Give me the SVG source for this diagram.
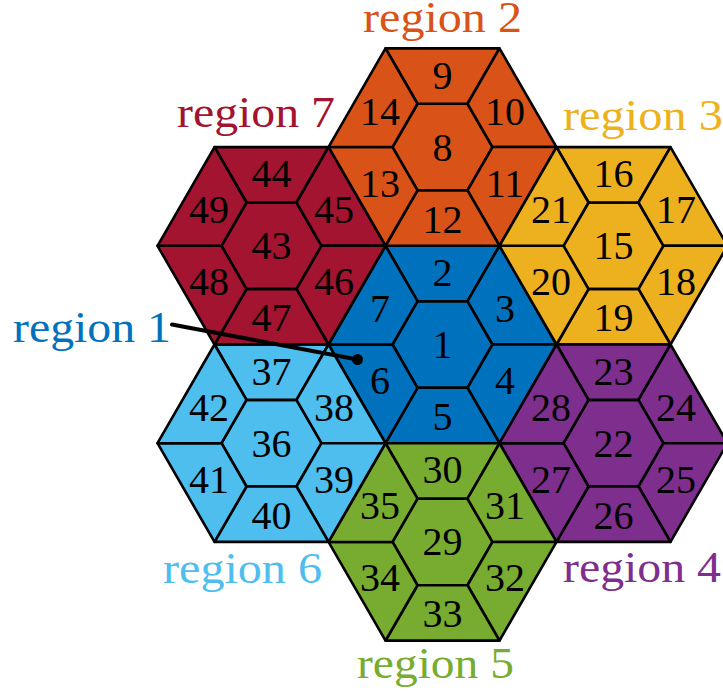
<svg xmlns="http://www.w3.org/2000/svg" width="723" height="694" viewBox="0 0 723 694">
<style>
  .cell polygon { stroke: #000; stroke-width: 2.6; stroke-linejoin: round; }
  .num { font-family: "Liberation Serif", serif; font-size: 40px; fill: #000; text-anchor: middle; }
  .lbl { font-family: "Liberation Serif", serif; font-size: 44px; }
  .r1 polygon { fill: #0072BD; } .r2 polygon { fill: #D95319; } .r3 polygon { fill: #EDB120; }
  .r4 polygon { fill: #7E2F8E; } .r5 polygon { fill: #77AC30; } .r6 polygon { fill: #4DBEEE; }
  .r7 polygon { fill: #A2142F; }
</style>
<defs>
  <polygon id="pc" points="50,0 25,-43.3 -25,-43.3 -50,0 -25,43.3 25,43.3"/>
  <polygon id="pt" points="57,-98.7 -57,-98.7 -25,-43.3 25,-43.3"/>
  <polygon id="pur" points="114,0 57,-98.7 25,-43.3 50,0"/>
  <polygon id="plr" points="57,98.7 114,0 50,0 25,43.3"/>
  <polygon id="pb" points="-57,98.7 57,98.7 25,43.3 -25,43.3"/>
  <polygon id="pll" points="-114,0 -57,98.7 -25,43.3 -50,0"/>
  <polygon id="pul" points="-57,-98.7 -114,0 -50,0 -25,-43.3"/>
</defs>
<rect width="723" height="694" fill="#fff"/>

<g id="region1" class="cell r1" transform="translate(442.5,344.5)">
  <g id="c1"><polygon points="50,0 25,-43.3 -25,-43.3 -50,0 -25,43.3 25,43.3"/><text class="num" x="0" y="13.5">1</text></g>
  <g id="c2"><polygon points="57,-98.7 -57,-98.7 -25,-43.3 25,-43.3"/><text class="num" x="0" y="-58.5">2</text></g>
  <g id="c3"><polygon points="114,0 57,-98.7 25,-43.3 50,0"/><text class="num" x="62.4" y="-22.5">3</text></g>
  <g id="c4"><polygon points="57,98.7 114,0 50,0 25,43.3"/><text class="num" x="62.4" y="49.5">4</text></g>
  <g id="c5"><polygon points="-57,98.7 57,98.7 25,43.3 -25,43.3"/><text class="num" x="0" y="85.5">5</text></g>
  <g id="c6"><polygon points="-114,0 -57,98.7 -25,43.3 -50,0"/><text class="num" x="-62.4" y="49.5">6</text></g>
  <g id="c7"><polygon points="-57,-98.7 -114,0 -50,0 -25,-43.3"/><text class="num" x="-62.4" y="-22.5">7</text></g>
</g>
<g id="region2" class="cell r2" transform="translate(442.5,147.05)">
  <g id="c8"><polygon points="50,0 25,-43.3 -25,-43.3 -50,0 -25,43.3 25,43.3"/><text class="num" x="0" y="13.5">8</text></g>
  <g id="c9"><polygon points="57,-98.7 -57,-98.7 -25,-43.3 25,-43.3"/><text class="num" x="0" y="-58.5">9</text></g>
  <g id="c10"><polygon points="114,0 57,-98.7 25,-43.3 50,0"/><text class="num" x="62.4" y="-22.5">10</text></g>
  <g id="c11"><polygon points="57,98.7 114,0 50,0 25,43.3"/><text class="num" x="62.4" y="49.5">11</text></g>
  <g id="c12"><polygon points="-57,98.7 57,98.7 25,43.3 -25,43.3"/><text class="num" x="0" y="85.5">12</text></g>
  <g id="c13"><polygon points="-114,0 -57,98.7 -25,43.3 -50,0"/><text class="num" x="-62.4" y="49.5">13</text></g>
  <g id="c14"><polygon points="-57,-98.7 -114,0 -50,0 -25,-43.3"/><text class="num" x="-62.4" y="-22.5">14</text></g>
</g>
<g id="region3" class="cell r3" transform="translate(613.5,245.8)">
  <g id="c15"><polygon points="50,0 25,-43.3 -25,-43.3 -50,0 -25,43.3 25,43.3"/><text class="num" x="0" y="13.5">15</text></g>
  <g id="c16"><polygon points="57,-98.7 -57,-98.7 -25,-43.3 25,-43.3"/><text class="num" x="0" y="-58.5">16</text></g>
  <g id="c17"><polygon points="114,0 57,-98.7 25,-43.3 50,0"/><text class="num" x="62.4" y="-22.5">17</text></g>
  <g id="c18"><polygon points="57,98.7 114,0 50,0 25,43.3"/><text class="num" x="62.4" y="49.5">18</text></g>
  <g id="c19"><polygon points="-57,98.7 57,98.7 25,43.3 -25,43.3"/><text class="num" x="0" y="85.5">19</text></g>
  <g id="c20"><polygon points="-114,0 -57,98.7 -25,43.3 -50,0"/><text class="num" x="-62.4" y="49.5">20</text></g>
  <g id="c21"><polygon points="-57,-98.7 -114,0 -50,0 -25,-43.3"/><text class="num" x="-62.4" y="-22.5">21</text></g>
</g>
<g id="region4" class="cell r4" transform="translate(613.5,443.2)">
  <g id="c22"><polygon points="50,0 25,-43.3 -25,-43.3 -50,0 -25,43.3 25,43.3"/><text class="num" x="0" y="13.5">22</text></g>
  <g id="c23"><polygon points="57,-98.7 -57,-98.7 -25,-43.3 25,-43.3"/><text class="num" x="0" y="-58.5">23</text></g>
  <g id="c24"><polygon points="114,0 57,-98.7 25,-43.3 50,0"/><text class="num" x="62.4" y="-22.5">24</text></g>
  <g id="c25"><polygon points="57,98.7 114,0 50,0 25,43.3"/><text class="num" x="62.4" y="49.5">25</text></g>
  <g id="c26"><polygon points="-57,98.7 57,98.7 25,43.3 -25,43.3"/><text class="num" x="0" y="85.5">26</text></g>
  <g id="c27"><polygon points="-114,0 -57,98.7 -25,43.3 -50,0"/><text class="num" x="-62.4" y="49.5">27</text></g>
  <g id="c28"><polygon points="-57,-98.7 -114,0 -50,0 -25,-43.3"/><text class="num" x="-62.4" y="-22.5">28</text></g>
</g>
<g id="region5" class="cell r5" transform="translate(442.5,541.95)">
  <g id="c29"><polygon points="50,0 25,-43.3 -25,-43.3 -50,0 -25,43.3 25,43.3"/><text class="num" x="0" y="13.5">29</text></g>
  <g id="c30"><polygon points="57,-98.7 -57,-98.7 -25,-43.3 25,-43.3"/><text class="num" x="0" y="-58.5">30</text></g>
  <g id="c31"><polygon points="114,0 57,-98.7 25,-43.3 50,0"/><text class="num" x="62.4" y="-22.5">31</text></g>
  <g id="c32"><polygon points="57,98.7 114,0 50,0 25,43.3"/><text class="num" x="62.4" y="49.5">32</text></g>
  <g id="c33"><polygon points="-57,98.7 57,98.7 25,43.3 -25,43.3"/><text class="num" x="0" y="85.5">33</text></g>
  <g id="c34"><polygon points="-114,0 -57,98.7 -25,43.3 -50,0"/><text class="num" x="-62.4" y="49.5">34</text></g>
  <g id="c35"><polygon points="-57,-98.7 -114,0 -50,0 -25,-43.3"/><text class="num" x="-62.4" y="-22.5">35</text></g>
</g>
<g id="region6" class="cell r6" transform="translate(271.5,443.2)">
  <g id="c36"><polygon points="50,0 25,-43.3 -25,-43.3 -50,0 -25,43.3 25,43.3"/><text class="num" x="0" y="13.5">36</text></g>
  <g id="c37"><polygon points="57,-98.7 -57,-98.7 -25,-43.3 25,-43.3"/><text class="num" x="0" y="-58.5">37</text></g>
  <g id="c38"><polygon points="114,0 57,-98.7 25,-43.3 50,0"/><text class="num" x="62.4" y="-22.5">38</text></g>
  <g id="c39"><polygon points="57,98.7 114,0 50,0 25,43.3"/><text class="num" x="62.4" y="49.5">39</text></g>
  <g id="c40"><polygon points="-57,98.7 57,98.7 25,43.3 -25,43.3"/><text class="num" x="0" y="85.5">40</text></g>
  <g id="c41"><polygon points="-114,0 -57,98.7 -25,43.3 -50,0"/><text class="num" x="-62.4" y="49.5">41</text></g>
  <g id="c42"><polygon points="-57,-98.7 -114,0 -50,0 -25,-43.3"/><text class="num" x="-62.4" y="-22.5">42</text></g>
</g>
<g id="region7" class="cell r7" transform="translate(271.5,245.8)">
  <g id="c43"><polygon points="50,0 25,-43.3 -25,-43.3 -50,0 -25,43.3 25,43.3"/><text class="num" x="0" y="13.5">43</text></g>
  <g id="c44"><polygon points="57,-98.7 -57,-98.7 -25,-43.3 25,-43.3"/><text class="num" x="0" y="-58.5">44</text></g>
  <g id="c45"><polygon points="114,0 57,-98.7 25,-43.3 50,0"/><text class="num" x="62.4" y="-22.5">45</text></g>
  <g id="c46"><polygon points="57,98.7 114,0 50,0 25,43.3"/><text class="num" x="62.4" y="49.5">46</text></g>
  <g id="c47"><polygon points="-57,98.7 57,98.7 25,43.3 -25,43.3"/><text class="num" x="0" y="85.5">47</text></g>
  <g id="c48"><polygon points="-114,0 -57,98.7 -25,43.3 -50,0"/><text class="num" x="-62.4" y="49.5">48</text></g>
  <g id="c49"><polygon points="-57,-98.7 -114,0 -50,0 -25,-43.3"/><text class="num" x="-62.4" y="-22.5">49</text></g>
</g>

<g id="labels">
  <text id="label-region1" class="lbl" x="13" y="341.5" textLength="158" lengthAdjust="spacingAndGlyphs" fill="#0072BD">region 1</text>
  <text id="label-region2" class="lbl" x="363" y="32" textLength="159" lengthAdjust="spacingAndGlyphs" fill="#D95319">region 2</text>
  <text id="label-region3" class="lbl" x="563" y="130" textLength="160" lengthAdjust="spacingAndGlyphs" fill="#EDB120">region 3</text>
  <text id="label-region4" class="lbl" x="563" y="581.5" textLength="158" lengthAdjust="spacingAndGlyphs" fill="#7E2F8E">region 4</text>
  <text id="label-region5" class="lbl" x="357" y="678" textLength="157" lengthAdjust="spacingAndGlyphs" fill="#77AC30">region 5</text>
  <text id="label-region6" class="lbl" x="163" y="583" textLength="159" lengthAdjust="spacingAndGlyphs" fill="#4DBEEE">region 6</text>
  <text id="label-region7" class="lbl" x="177" y="127" textLength="158" lengthAdjust="spacingAndGlyphs" fill="#A2142F">region 7</text>
</g>

<g id="connectors">
  <line x1="172" y1="324.5" x2="357.5" y2="359.5" stroke="#000" stroke-width="4" stroke-linecap="round"/>
  <circle cx="357.5" cy="359.5" r="5.5" fill="#000"/>
</g>
</svg>
